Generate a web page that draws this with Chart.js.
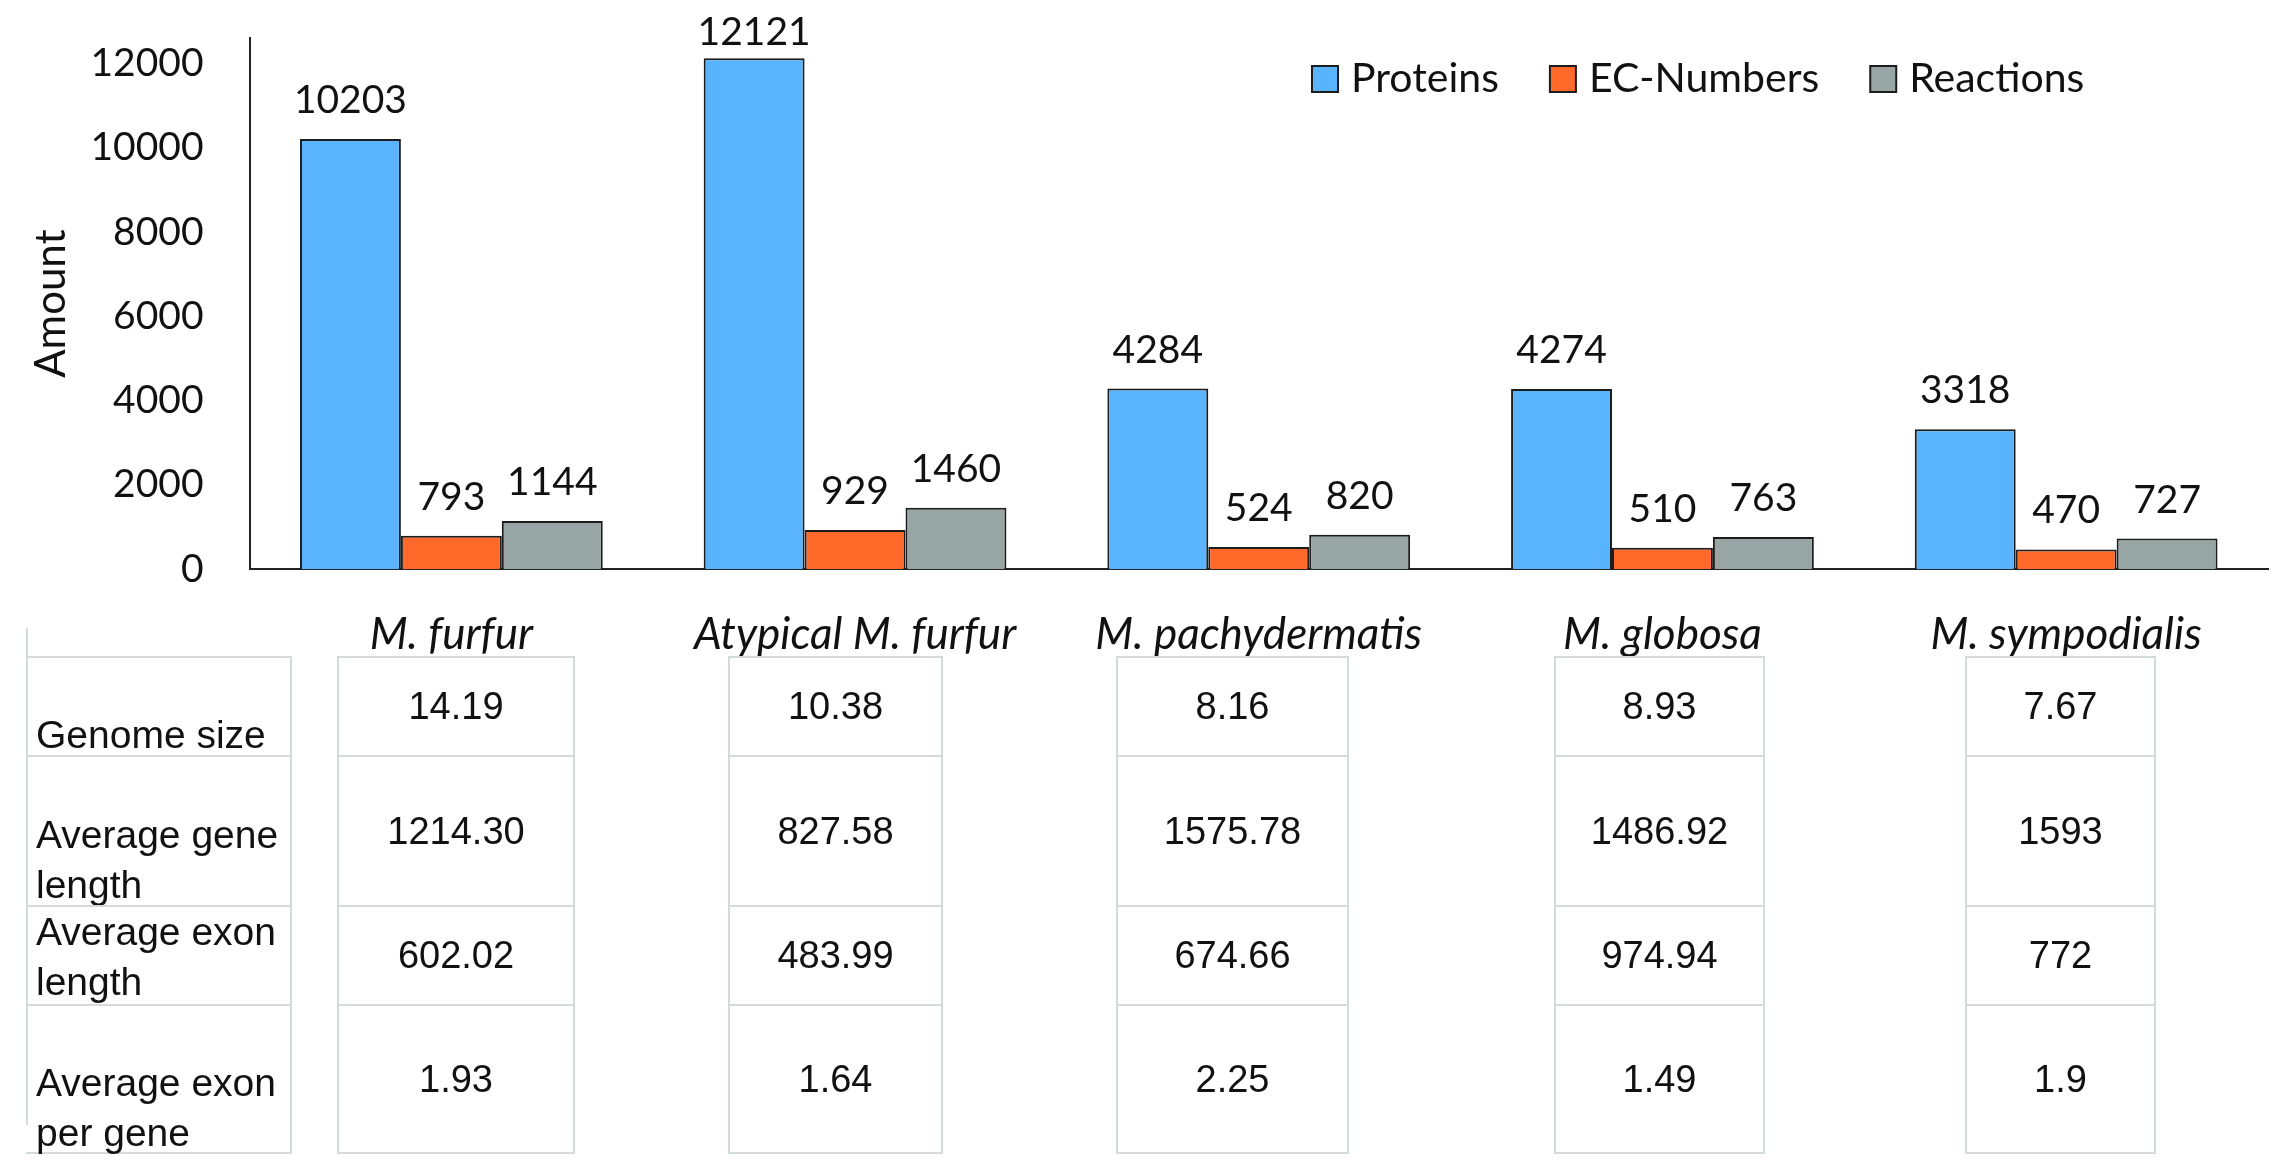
<!DOCTYPE html>
<html>
<head>
<meta charset="utf-8">
<script src="https://cdn.jsdelivr.net/npm/chart.js@4.4.1/dist/chart.umd.min.js"></script>
<style>
  html, body { margin: 0; padding: 0; background: #ffffff; }
  #wrap { position: relative; width: 2278px; height: 1165px; overflow: hidden; background: #fff; }
  #c { position: absolute; left: 0; top: 0; }
  .cell { position: absolute; box-sizing: border-box; border: 2px solid #d4dbdb; display: flex; align-items: center; justify-content: center;
          font-family: "Liberation Sans", Arial, sans-serif; font-size: 38px; color: #111; }
  .lab { position: absolute; font-family: "Liberation Sans", Arial, sans-serif; font-size: 39px; line-height: 50px; color: #111; }
  .line { position: absolute; background: #d4dbdb; }
</style>
</head>
<body>
<div id="wrap">
  <canvas id="c" width="2278" height="700"></canvas>
  <div id="tbl"></div>
</div>
<script>
// ---------- data ----------
const categories = ['M. furfur', 'Atypical M. furfur', 'M. pachydermatis', 'M. globosa', 'M. sympodialis'];
const seriesNames = ['Proteins', 'EC-Numbers', 'Reactions'];
const proteins  = [10203, 12121, 4284, 4274, 3318];
const ecNumbers = [793, 929, 524, 510, 470];
const reactions = [1144, 1460, 820, 763, 727];
const yTicks = [0, 2000, 4000, 6000, 8000, 10000, 12000];
const yTitle = 'Amount';

const rowLabels = ['Genome size', 'Average gene length', 'Average exon length', 'Average exon per gene'];
const genomeSize     = ['14.19', '10.38', '8.16', '8.93', '7.67'];
const avgGeneLength  = ['1214.30', '827.58', '1575.78', '1486.92', '1593'];
const avgExonLength  = ['602.02', '483.99', '674.66', '974.94', '772'];
const avgExonPerGene = ['1.93', '1.64', '2.25', '1.49', '1.9'];

// ---------- styles / layout ----------
const colors = ['#5ab4fd', '#ff6a2a', '#97a6a4'];
const barBorder = '#1c1c1c';
const chartFont = 'Lato';

// data labels above bars (kept inside the drawing area at the top)
const valueLabels = {
  id: 'valueLabels',
  afterDatasetsDraw(chart) {
    const ctx = chart.ctx;
    ctx.save();
    ctx.font = '39px ' + chartFont;
    ctx.fillStyle = '#111';
    ctx.textAlign = 'center';
    ctx.textBaseline = 'alphabetic';
    const minBase = chart.chartArea.top + 7;
    chart.data.datasets.forEach((ds, di) => {
      const meta = chart.getDatasetMeta(di);
      meta.data.forEach((el, i) => {
        ctx.fillText(String(ds.data[i]), el.x, Math.max(el.y - 26, minBase));
      });
    });
    ctx.restore();
  }
};

// legend drawn inside the plot area
const floatLegend = {
  id: 'floatLegend',
  afterDraw(chart) {
    const ctx = chart.ctx;
    ctx.save();
    ctx.font = '41px ' + chartFont;
    ctx.textBaseline = 'middle';
    ctx.textAlign = 'left';
    let x = 1312;
    const yMid = 79, box = 26;
    chart.data.datasets.forEach((ds) => {
      ctx.fillStyle = ds.backgroundColor;
      ctx.fillRect(x, yMid - box / 2, box, box);
      ctx.lineWidth = 2;
      ctx.strokeStyle = barBorder;
      ctx.strokeRect(x, yMid - box / 2, box, box);
      ctx.fillStyle = '#111';
      ctx.fillText(ds.label, x + box + 13, yMid);
      x += box + 13 + ctx.measureText(ds.label).width + 51;
    });
    ctx.restore();
  }
};

const seriesData = [proteins, ecNumbers, reactions];

new Chart(document.getElementById('c'), {
  type: 'bar',
  data: {
    labels: categories,
    datasets: seriesNames.map((name, i) => ({
      label: name,
      data: seriesData[i],
      backgroundColor: colors[i],
      borderColor: barBorder,
      borderWidth: 2,
      categoryPercentage: 0.75,
      barPercentage: 1.0
    }))
  },
  options: {
    responsive: false,
    animation: false,
    devicePixelRatio: 1,
    layout: { padding: { left: 26, right: 10, top: 38, bottom: 35 } },
    plugins: {
      legend: { display: false },
      tooltip: { enabled: false }
    },
    scales: {
      x: {
        grid: { display: false, drawTicks: true, tickLength: 35 },
        border: { display: true, color: '#222', width: 2 },
        ticks: {
          padding: 4,
          color: '#111',
          font: { family: chartFont, size: 44, style: 'italic' }
        }
      },
      y: {
        min: 0,
        max: 12600,
        afterBuildTicks(scale) {
          scale.ticks = yTicks.map(v => ({ value: v }));
        },
        grid: { display: false, drawTicks: true, tickLength: 42 },
        border: { display: true, color: '#222', width: 2 },
        ticks: {
          padding: 4,
          color: '#111',
          font: { family: chartFont, size: 39 },
          callback: (v) => String(v)
        },
        title: {
          display: true,
          text: yTitle,
          color: '#111',
          font: { family: chartFont, size: 42 },
          padding: { top: 0, bottom: 10 }
        }
      }
    }
  },
  plugins: [valueLabels, floatLegend]
});

// ---------- table below the chart ----------
const tableRows = [genomeSize, avgGeneLength, avgExonLength, avgExonPerGene];
const colBoxes = [[338, 574], [729, 942], [1117, 1348], [1555, 1764], [1966, 2155]];
const labelBox = [27, 291];
const rowEdges = [657, 756, 906, 1005, 1153];
const labelTops = [710, 810, 907, 1058];
const tbl = document.getElementById('tbl');

function addCell(l, r, t, b, text, noLeft) {
  const d = document.createElement('div');
  d.className = 'cell';
  d.style.left = (l - 1) + 'px';
  d.style.top = (t - 1) + 'px';
  d.style.width = (r - l + 2) + 'px';
  d.style.height = (b - t + 2) + 'px';
  if (noLeft) d.style.borderLeft = 'none';
  if (text !== undefined) d.textContent = text;
  tbl.appendChild(d);
}

for (let r = 0; r < tableRows.length; r++) {
  addCell(labelBox[0], labelBox[1], rowEdges[r], rowEdges[r + 1], undefined, true);
  for (let c = 0; c < colBoxes.length; c++) {
    addCell(colBoxes[c][0], colBoxes[c][1], rowEdges[r], rowEdges[r + 1], tableRows[r][c]);
  }
  const lab = document.createElement('div');
  lab.className = 'lab';
  lab.style.left = '36px';
  lab.style.top = labelTops[r] + 'px';
  lab.style.width = '255px';
  lab.textContent = rowLabels[r];
  tbl.appendChild(lab);
}
const leftLine = document.createElement('div');
leftLine.className = 'line';
leftLine.style.left = '26px';
leftLine.style.top = '628px';
leftLine.style.width = '2px';
leftLine.style.height = '497px';
tbl.appendChild(leftLine);
</script>
</body>
</html>
